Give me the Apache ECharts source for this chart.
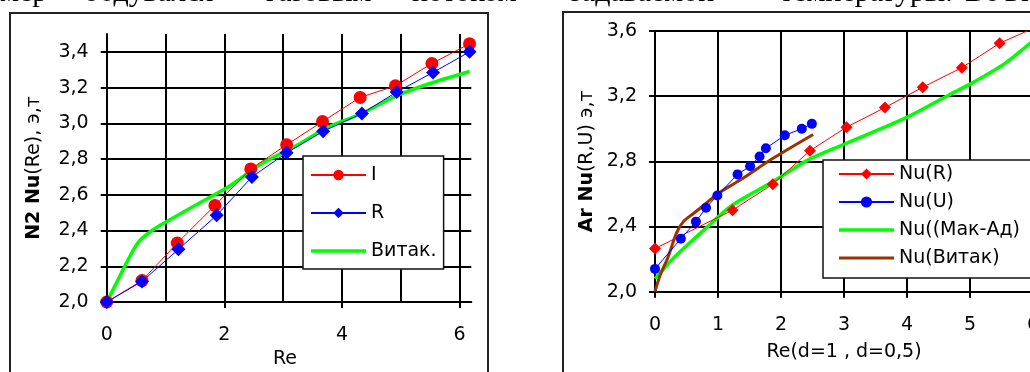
<!DOCTYPE html>
<html><head><meta charset="utf-8">
<script src="https://cdn.jsdelivr.net/npm/echarts@6/dist/echarts.min.js"></script>
<style>html,body{margin:0;padding:0;background:#fff;overflow:hidden}#c{width:1030px;height:372px}</style>
</head><body><div id="c"></div>
<script>
// ---- left chart (N2) ----
const leftIX = [0, 0.6, 1.2, 1.84, 2.45, 3.06, 3.67, 4.31, 4.91, 5.53, 6.17];
const leftIY = [2.0, 2.12, 2.33, 2.54, 2.745, 2.88, 3.01, 3.145, 3.21, 3.335, 3.445];
const leftRX = [0, 0.6, 1.22, 1.87, 2.47, 3.06, 3.68, 4.34, 4.93, 5.55, 6.17];
const leftRY = [2.0, 2.115, 2.295, 2.485, 2.70, 2.835, 2.955, 3.055, 3.175, 3.285, 3.40];
const leftVitX = [0, 0.14, 0.37, 0.54, 0.77, 1.02, 1.5, 2.07, 2.64, 3.2, 3.77, 4.34, 4.9, 5.47, 6.17];
const leftVitY = [2.0, 2.09, 2.24, 2.335, 2.40, 2.45, 2.54, 2.645, 2.775, 2.87, 2.98, 3.055, 3.15, 3.22, 3.29];
const leftXTicks = [0, 2, 4, 6];
const leftYTicks = [2.0, 2.2, 2.4, 2.6, 2.8, 3.0, 3.2, 3.4];
// ---- right chart (Ar) ----
const nuRX = [0, 1.23, 1.87, 2.46, 3.04, 3.65, 4.25, 4.87, 5.47, 6.08];
const nuRY = [2.265, 2.50, 2.66, 2.865, 3.01, 3.13, 3.255, 3.375, 3.525, 3.63];
const nuUX = [0, 0.41, 0.65, 0.81, 0.99, 1.31, 1.51, 1.66, 1.76, 2.06, 2.33, 2.49];
const nuUY = [2.14, 2.325, 2.43, 2.515, 2.59, 2.72, 2.77, 2.83, 2.88, 2.96, 3.0, 3.03];
const makX = [0, 0.13, 0.29, 0.81, 1.24, 1.87, 2.46, 3.0, 3.97, 4.63, 5.03, 5.55, 5.94, 6.05];
const makY = [2.08, 2.135, 2.205, 2.39, 2.535, 2.675, 2.815, 2.905, 3.065, 3.2, 3.28, 3.40, 3.52, 3.555];
const vitX = [0, 0.08, 0.21, 0.34, 0.45, 0.61, 0.74, 1.03, 1.35, 1.88, 2.51];
const vitY = [2.0, 2.10, 2.215, 2.36, 2.43, 2.48, 2.52, 2.61, 2.685, 2.82, 2.965];

const leftNames = ['I', 'R', 'Витак.'];
const rightNames = ['Nu(R)', 'Nu(U)', 'Nu((Мак-Ад)', 'Nu(Витак)'];
const topWords = ['мер', '-', 'обдувался', 'газовым', 'потоком', 'задаваемой', 'температуры.', 'Во', 'вт'];

const pair = (xs, ys) => xs.map((x, i) => [x, ys[i]]);
const FONT = '"DejaVu Sans", Verdana, sans-serif';
const txt = {color: '#000', fontFamily: FONT, fontSize: 19};
const BLK = {color: '#000', width: 2};
const comma = v => v.toFixed(1).replace('.', ',');
const hidden = {show: false};

// word positions of the cut-off document line above the charts
const wordX = [0, 60, 84, 266, 412, 570, 780, 965, 1005];
const topText = topWords.map((w, i) => ({
  type: 'text', x: wordX[i], y: 8,
  style: {text: w, font: '30px "Liberation Serif", serif', fill: '#000', verticalAlign: 'bottom', textVerticalAlign: 'bottom'}
}));

const lineIcon = w => 'path://M0,0h60v' + w + 'h-60z';

const chart = echarts.init(document.getElementById('c'), null, {renderer: 'canvas'});
chart.setOption({
  animation: false,
  backgroundColor: '#fff',
  graphic: [
    {type: 'rect', shape: {x: 10, y: 13, width: 478, height: 420}, style: {fill: 'none', stroke: '#222', lineWidth: 2}, z: 0},
    {type: 'rect', shape: {x: 563, y: 12, width: 520, height: 420}, style: {fill: 'none', stroke: '#222', lineWidth: 2}, z: 0}
  ].concat(topText),
  grid: [
    {left: 106.7, top: 34, width: 364.6, height: 268, containLabel: false, outerBoundsMode: 'none'},
    {left: 655, top: 31, width: 378, height: 260.7, containLabel: false, outerBoundsMode: 'none'}
  ],
  xAxis: [
    {gridIndex: 0, type: 'value', min: 0, max: 6.2, interval: 2, position: 'bottom',
     name: 'Re', nameLocation: 'middle', nameGap: 45, nameTextStyle: Object.assign({}, txt, {padding: [0, 8, 0, 0]}),
     axisLine: {onZero: false, lineStyle: BLK},
     axisTick: {show: true, length: 6, customValues: leftXTicks, lineStyle: BLK},
     axisLabel: Object.assign({margin: 24, customValues: leftXTicks}, txt),
     splitLine: hidden},
    {gridIndex: 0, type: 'value', min: 0, max: 6.2, interval: 1,
     axisLine: hidden, axisTick: hidden, axisLabel: hidden,
     splitLine: {show: true, showMaxLine: false, lineStyle: BLK}},
    {gridIndex: 1, type: 'value', min: 0, max: 6, interval: 1,
     name: 'Re(d=1 , d=0,5)', nameLocation: 'middle', nameGap: 51, nameTextStyle: txt,
     axisLine: {onZero: false, lineStyle: BLK},
     axisTick: {show: true, length: 6, lineStyle: BLK},
     axisLabel: Object.assign({margin: 24}, txt),
     splitLine: {show: true, lineStyle: BLK}}
  ],
  yAxis: [
    {gridIndex: 0, type: 'value', min: 2.0, max: 3.5, interval: 0.2, position: 'left',
     name: '{b|N2 Nu}(Re), э,т', nameLocation: 'middle', nameRotate: 90, nameGap: 63,
     nameTextStyle: Object.assign({}, txt, {rich: {b: {fontWeight: 'bold', fontSize: 19, fontFamily: FONT, color: '#000'}}}),
     axisLine: {onZero: false, lineStyle: BLK},
     axisTick: {show: true, length: 6, customValues: leftYTicks, lineStyle: BLK},
     axisLabel: Object.assign({margin: 18, formatter: comma, customValues: leftYTicks}, txt),
     splitLine: hidden},
    {gridIndex: 0, type: 'value', min: 2.0, max: 3.5, interval: 0.2,
     axisLine: hidden, axisTick: hidden, axisLabel: hidden,
     splitLine: {show: true, showMaxLine: false, lineStyle: BLK}},
    {gridIndex: 1, type: 'value', min: 2.0, max: 3.6, interval: 0.4,
     name: '{b|Ar Nu}(R,U) э,т', nameLocation: 'middle', nameRotate: 90, nameGap: 58,
     nameTextStyle: Object.assign({}, txt, {rich: {b: {fontWeight: 'bold', fontSize: 19, fontFamily: FONT, color: '#000'}}}),
     axisLine: {onZero: false, lineStyle: BLK},
     axisTick: {show: true, length: 6, lineStyle: BLK},
     axisLabel: Object.assign({margin: 18, formatter: comma}, txt),
     splitLine: {show: true, lineStyle: BLK}}
  ],
  legend: [
    {data: [leftNames[0], leftNames[1], {name: leftNames[2], icon: lineIcon(4)}],
     orient: 'vertical', left: 303, top: 156, itemWidth: 55, itemHeight: 13, itemGap: 18,
     padding: [9, 7, 8, 7], backgroundColor: '#fff', borderColor: '#111', borderWidth: 1.5, borderRadius: 0,
     textStyle: Object.assign({}, txt, {lineHeight: 20}), selectedMode: false},
    {data: [rightNames[0], rightNames[1], {name: rightNames[2], icon: lineIcon(4)}, {name: rightNames[3], icon: lineIcon(3.5)}],
     orient: 'vertical', left: 823, top: 160, itemWidth: 55, itemHeight: 14, itemGap: 8,
     padding: [4, 80, 10, 15], backgroundColor: '#fff', borderColor: '#111', borderWidth: 1.5, borderRadius: 0,
     textStyle: Object.assign({}, txt, {lineHeight: 20}), selectedMode: false}
  ],
  series: [
    {name: 'Витак.', type: 'line', xAxisIndex: 0, yAxisIndex: 0, data: pair(leftVitX, leftVitY), symbol: 'none', smooth: 0.3,
     lineStyle: {color: '#00FF00', width: 3.5}, itemStyle: {color: '#00FF00'}, clip: false, z: 2},
    {name: 'I', type: 'line', xAxisIndex: 0, yAxisIndex: 0, data: pair(leftIX, leftIY), symbol: 'circle', symbolSize: 13,
     lineStyle: {color: '#FF0000', width: 1}, itemStyle: {color: '#FF0000'}, clip: false, z: 3},
    {name: 'R', type: 'line', xAxisIndex: 0, yAxisIndex: 0, data: pair(leftRX, leftRY), symbol: 'diamond', symbolSize: 14,
     lineStyle: {color: '#0000FF', width: 1}, itemStyle: {color: '#0000FF'}, clip: false, z: 4},
    {name: 'Nu(R)', type: 'line', xAxisIndex: 2, yAxisIndex: 2, data: pair(nuRX, nuRY), symbol: 'diamond', symbolSize: 12,
     lineStyle: {color: '#FF0000', width: 1}, itemStyle: {color: '#FF0000'}, clip: true, z: 3},
    {name: 'Nu(U)', type: 'line', xAxisIndex: 2, yAxisIndex: 2, data: pair(nuUX, nuUY), symbol: 'circle', symbolSize: 10,
     lineStyle: {color: '#0000FF', width: 1}, itemStyle: {color: '#0000FF'}, clip: true, z: 4},
    {name: 'Nu((Мак-Ад)', type: 'line', xAxisIndex: 2, yAxisIndex: 2, data: pair(makX, makY), symbol: 'none', smooth: 0.3,
     lineStyle: {color: '#00FF00', width: 3.5}, itemStyle: {color: '#00FF00'}, clip: true, z: 2},
    {name: 'Nu(Витак)', type: 'line', xAxisIndex: 2, yAxisIndex: 2, data: pair(vitX, vitY), symbol: 'none', smooth: 0.3,
     lineStyle: {color: '#993300', width: 3}, itemStyle: {color: '#993300'}, clip: true, z: 2}
  ]
});
</script></body></html>
